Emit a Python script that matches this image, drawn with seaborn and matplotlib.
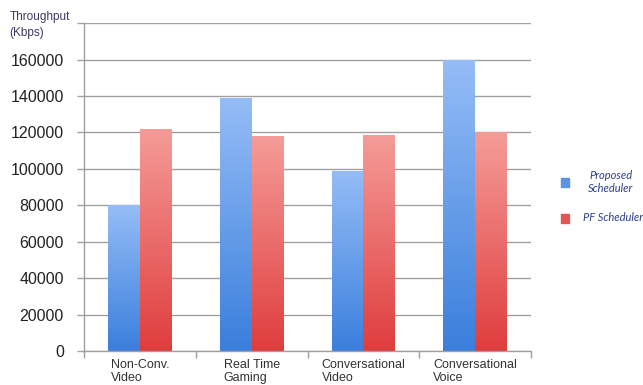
import numpy as np
import pandas as pd
import matplotlib
matplotlib.use("Agg")
import matplotlib.pyplot as plt
from matplotlib.colors import LinearSegmentedColormap
import seaborn as sns

categories = ["Non-Conv.\nVideo", "Real Time\nGaming", "Conversational\nVideo", "Conversational\nVoice"]
proposed = [80000, 139000, 99000, 160000]
pf = [122000, 118000, 118500, 120000]
series = ["Proposed\nScheduler", "PF Scheduler"]
yticks = list(range(0, 180001, 20000))
ytick_labels = [str(v) for v in yticks[:-1]] + [""]

df = pd.DataFrame({
    "category": categories * 2,
    "throughput": proposed + pf,
    "scheduler": [series[0]] * len(categories) + [series[1]] * len(categories),
})

sns.set_theme(style="white")
plt.rcParams["font.family"] = ["Liberation Sans", "DejaVu Sans"]

fig = plt.figure(figsize=(6.43, 3.85), dpi=100)
ax = fig.add_axes([0.1306, 0.0883, 0.6955, 0.8517])

base = {series[0]: "#3f82de", series[1]: "#e04242"}
sns.barplot(data=df, x="category", y="throughput", hue="scheduler",
            palette=base, width=0.57, saturation=1, ax=ax, legend=False,
            edgecolor="none")

# vertical gradient fill for each bar (light top, deep bottom)
grads = {
    series[0]: LinearSegmentedColormap.from_list("b", ["#3a7fdc", "#95bdf7"]),
    series[1]: LinearSegmentedColormap.from_list("r", ["#df3d3d", "#f59c98"]),
}
ymax = 180000
grad = np.linspace(0, 1, 256).reshape(-1, 1)
for container, name in zip(ax.containers, series):
    for patch in container.patches:
        x0, y0 = patch.get_x(), patch.get_y()
        w, h = patch.get_width(), patch.get_height()
        im = ax.imshow(grad, extent=[x0, x0 + w, y0, y0 + h], origin="lower",
                       cmap=grads[name], vmin=0, vmax=1, aspect="auto", zorder=2)
        im.set_clip_path(patch)
        patch.set_facecolor("none")

ax.set_xlim(-0.5, len(categories) - 0.5)
ax.set_ylim(0, ymax)
ax.set_yticks(yticks)
ax.set_yticklabels(ytick_labels, fontsize=11.5, color="#222222")
ax.yaxis.grid(True, color="#a0a0a0", linewidth=1.0)
ax.set_axisbelow(True)

for s in ["top", "right"]:
    ax.spines[s].set_visible(False)
for s in ["left", "bottom"]:
    ax.spines[s].set_color("#a0a0a0")
    ax.spines[s].set_linewidth(1.0)

ax.tick_params(axis="y", length=5, color="#a0a0a0", width=1.0, pad=9.5, left=True)
ax.set_xticks(np.arange(-0.5, len(categories)), minor=True)
ax.tick_params(axis="x", which="minor", length=5, color="#a0a0a0", width=1.0, bottom=True)
ax.tick_params(axis="x", which="major", length=0, pad=6)
ax.set_xticklabels(categories, fontsize=9, color="#333333", multialignment="left",
                   linespacing=1.05)
ax.set_xlabel("")
ax.set_ylabel("")

fig.text(0.015, 0.935, "Throughput\n(Kbps)", fontsize=8.5, color="#3b3a63",
         ha="left", va="center", linespacing=1.35)

# legend on the right
legend_font = ["Lato", "DejaVu Sans"]
fig.patches.append(plt.Rectangle((0.872, 0.514), 0.013, 0.023, transform=fig.transFigure,
                                 color="#5b93e6", figure=fig))
fig.text(0.95, 0.528, "Proposed\nScheduler", fontsize=8, style="italic", color="#2c3f8c",
         ha="center", va="center", family=legend_font, linespacing=1.25)
fig.patches.append(plt.Rectangle((0.872, 0.421), 0.013, 0.023, transform=fig.transFigure,
                                 color="#e55757", figure=fig))
fig.text(0.906, 0.434, "PF Scheduler", fontsize=8, style="italic", color="#2c3f8c",
         ha="left", va="center", family=legend_font)

fig.savefig("out.png", dpi=100, facecolor="white")
